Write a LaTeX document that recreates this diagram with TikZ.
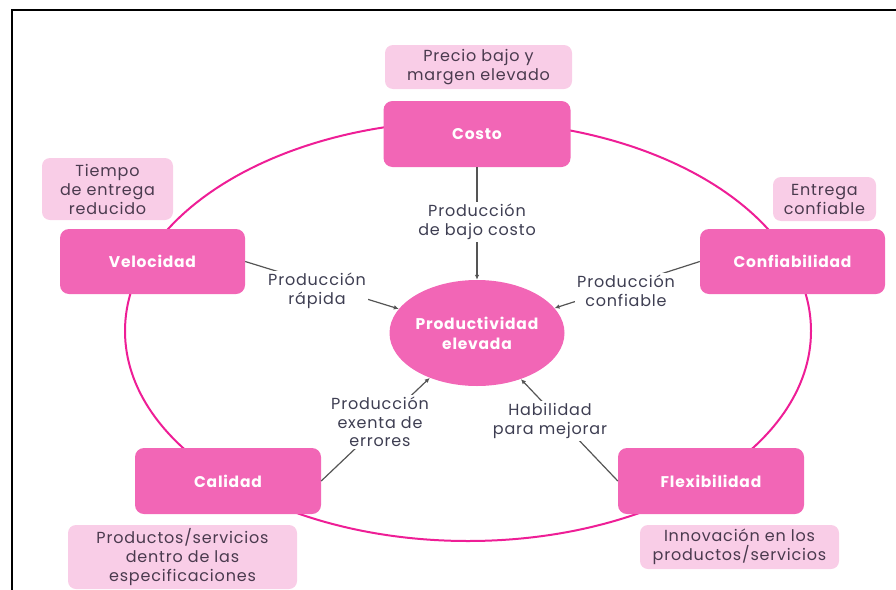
\documentclass[tikz,border=0pt]{standalone}
\usepackage{fontspec}
\setmainfont{Poppins}[LetterSpace=5]
\usetikzlibrary{arrows.meta,shapes.geometric}

\definecolor{boxpink}{HTML}{F266B6}
\definecolor{notepink}{HTML}{F9CDE7}
\definecolor{ringpink}{HTML}{EE1E96}
\definecolor{notetext}{HTML}{4A3A4E}
\definecolor{labeltext}{HTML}{3E3E52}
\definecolor{linkgray}{HTML}{555555}

\begin{document}
\begin{tikzpicture}[
  x=1pt, y=-1pt,
  mainbox/.style={rectangle, rounded corners=9pt, fill=boxpink, text=white,
    font=\bfseries\fontsize{15.5}{18}\selectfont, inner sep=0pt},
  notebox/.style={rectangle, rounded corners=8pt, fill=notepink, text=notetext,
    font=\fontsize{16}{19}\selectfont, align=center, inner sep=0pt},
  flowlabel/.style={fill=white, text=labeltext, font=\fontsize{16}{18.5}\selectfont,
    align=center, inner sep=2.5pt},
  ring/.style={draw=ringpink, line width=2pt},
  arrowlink/.style={draw=linkgray, line width=1.2pt, -{Latex[length=5pt,width=4.5pt]}}
]
\useasboundingbox (0,0) rectangle (896,589);

% frame
\draw[line width=2pt] (12,600) -- (12,10) -- (900,10);

% outer ring linking the five competitive priorities
\draw[ring] (468,331) ellipse [x radius=343, y radius=210];

% central goal
\node[ellipse, fill=boxpink, text=white, font=\bfseries\fontsize{15.5}{20}\selectfont,
  align=center, minimum width=175pt, minimum height=106pt, inner sep=0pt]
  (prod) at (477,333) {Productividad\\elevada};

% priorities
\node[mainbox, minimum width=187pt, minimum height=66pt] (costo) at (477,134) {Costo};
\node[mainbox, minimum width=185pt, minimum height=65pt] (velocidad) at (152.5,261.5) {Velocidad};
\node[mainbox, minimum width=185pt, minimum height=65pt] (confiab) at (792.5,261.5) {Confiabilidad};
\node[mainbox, minimum width=186pt, minimum height=66pt] (calidad) at (228,481) {Calidad};
\node[mainbox, minimum width=186pt, minimum height=66pt] (flexib) at (711,481) {Flexibilidad};

% notes
\node[notebox, minimum width=187pt, minimum height=44pt] (precio) at (478.5,67) {Precio bajo y\\margen elevado};
\node[notebox, minimum width=131pt, minimum height=62pt] (tiempo) at (107.5,189) {Tiempo\\de entrega\\reducido};
\node[notebox, minimum width=103pt, minimum height=44pt] (entrega) at (824.5,199) {Entrega\\confiable};
\node[notebox, minimum width=229pt, minimum height=64pt] (productos) at (182.5,557) {Productos/servicios\\dentro de las\\especificaciones};
\node[notebox, minimum width=199pt, minimum height=44pt] (innov) at (739.5,547) {Innovación en los\\productos/servicios};

% connectors
\draw[arrowlink] (costo.south) -- (prod);
\draw[arrowlink] (velocidad.east) -- (prod);
\draw[arrowlink] (confiab.west) -- (prod);
\draw[arrowlink] (calidad.east) -- (prod);
\draw[arrowlink] (flexib.west) -- (prod);

% connector labels
\node[flowlabel] (lcosto) at (477,222) {Producción\\de bajo costo};
\node[flowlabel] (lvel) at (317,291) {Producción\\rápida};
\node[flowlabel] (lconf) at (626,291) {Producción\\confiable};
\node[flowlabel] (lcal) at (380,422) {Producción\\exenta de\\errores};
\node[flowlabel] (lflex) at (550,421) {Habilidad\\para mejorar};
\end{tikzpicture}
\end{document}
